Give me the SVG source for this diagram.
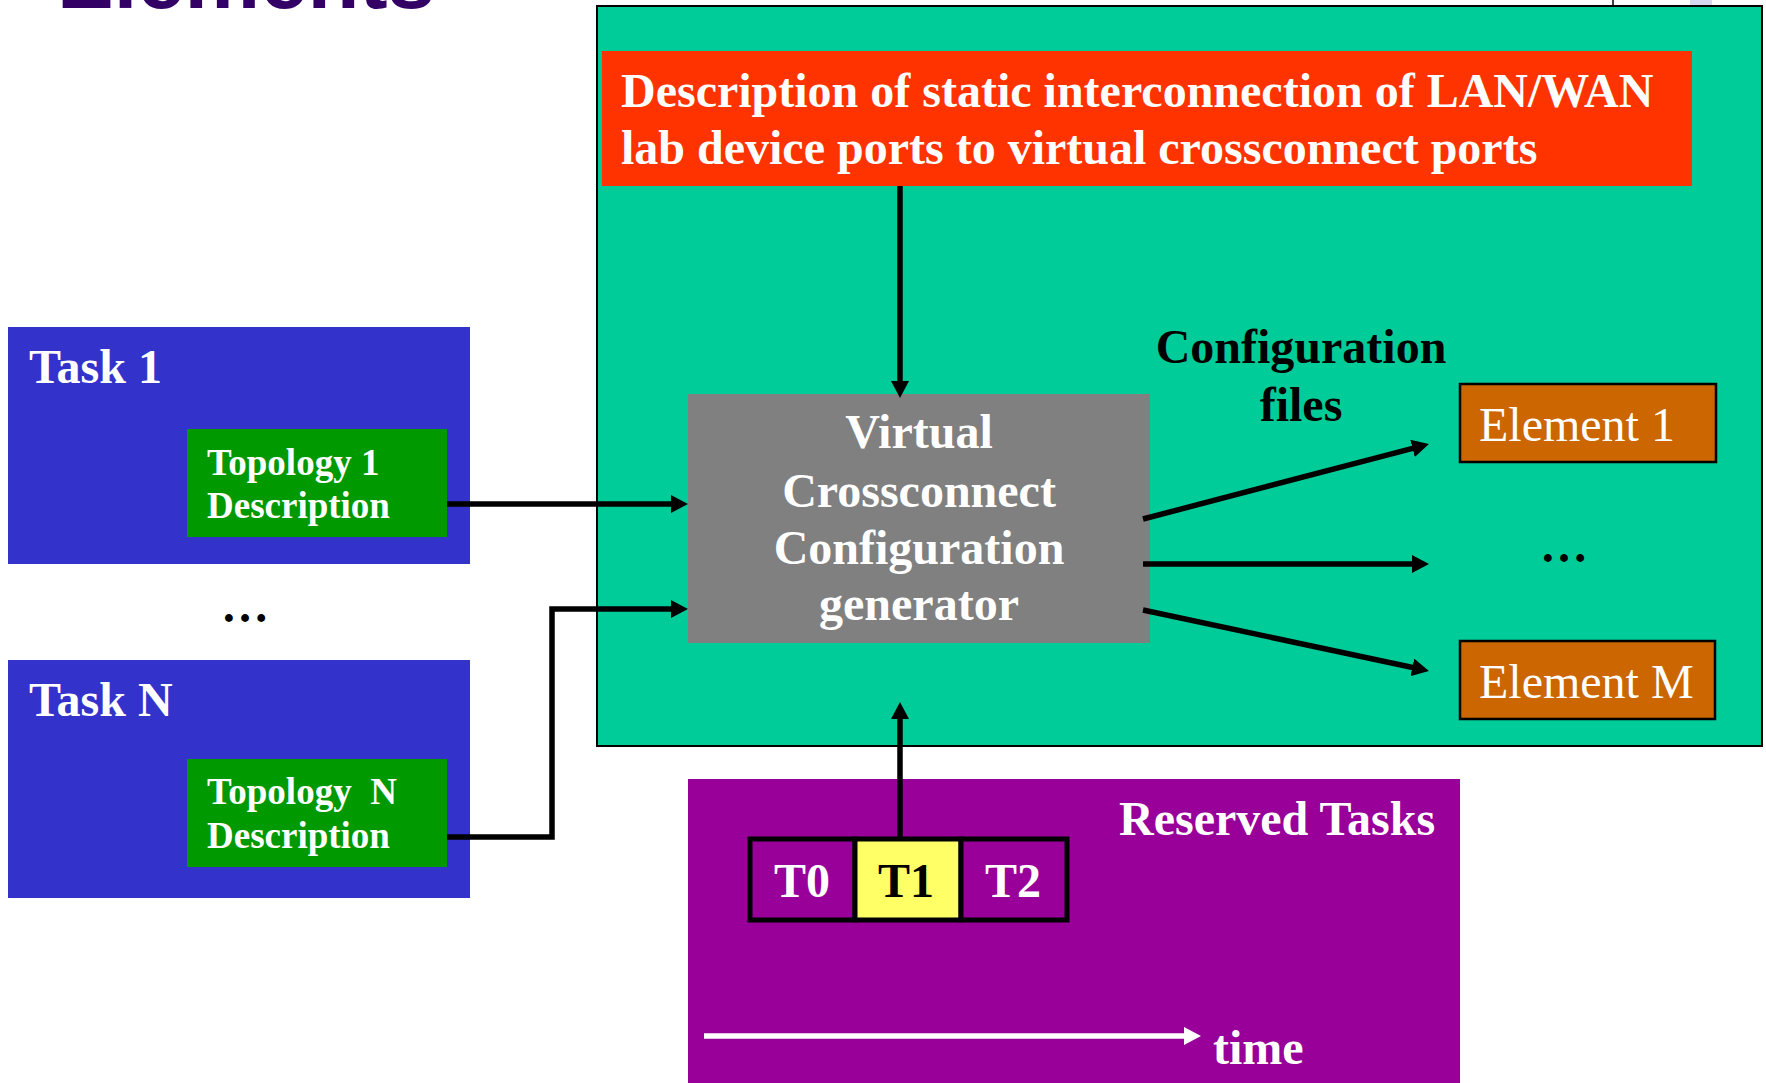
<svg xmlns="http://www.w3.org/2000/svg" width="1766" height="1083" viewBox="0 0 1766 1083">
  <style>
    .serif { font-family: "Liberation Serif", "Times New Roman", serif; font-weight: bold; }
    .w { fill: #ffffff; }
    .k { fill: #000000; }
    .big { font-size: 48px; }
    .mid { font-size: 37px; }
    .reg { font-weight: normal; }
    .wire { fill: none; stroke: #000; stroke-width: 5.5; }
    .wire-w { fill: none; stroke: #fff; stroke-width: 5.5; }
  </style>
  <defs>
    <marker id="arrow" viewBox="0 0 17 18" refX="10" refY="9" markerWidth="17" markerHeight="18" markerUnits="userSpaceOnUse" orient="auto">
      <path d="M0,0 L17,9 L0,18 z" fill="#000"/>
    </marker>
    <marker id="arrow-w" viewBox="0 0 17 18" refX="10" refY="9" markerWidth="17" markerHeight="18" markerUnits="userSpaceOnUse" orient="auto">
      <path d="M0,0 L17,9 L0,18 z" fill="#fff"/>
    </marker>
  </defs>

  <rect width="1766" height="1083" fill="#ffffff"/>

  <!-- slide heading, mostly above the page edge -->
  <text x="57" y="8" font-family="Liberation Sans, Arial, sans-serif" font-weight="bold" font-size="85" fill="#330066">Elements</text>
  <line x1="1613" y1="0" x2="1613" y2="6" stroke="#000" stroke-width="1.5"/>
  <rect x="1690" y="0" width="22" height="5" fill="#D6D6EE"/>

  <!-- crossconnect area -->
  <g id="crossconnect-area">
    <rect x="597" y="6" width="1165" height="740" fill="#00CC99" stroke="#000" stroke-width="2"/>
  </g>

  <g id="static-description">
    <rect x="602" y="51" width="1090" height="135" fill="#FF3300"/>
    <text class="serif w big" x="621" y="107">Description of static interconnection of LAN/WAN</text>
    <text class="serif w big" x="621" y="164">lab device ports to virtual crossconnect ports</text>
  </g>

  <g id="generator">
    <rect x="688" y="394" width="462" height="249" fill="#808080"/>
    <text class="serif w big" text-anchor="middle" x="919" y="448">Virtual</text>
    <text class="serif w big" text-anchor="middle" x="919" y="507">Crossconnect</text>
    <text class="serif w big" text-anchor="middle" x="919" y="564">Configuration</text>
    <text class="serif w big" text-anchor="middle" x="919" y="620">generator</text>
  </g>

  <g id="config-files-label">
    <text class="serif k big" text-anchor="middle" x="1301" y="363">Configuration</text>
    <text class="serif k big" text-anchor="middle" x="1301" y="421">files</text>
  </g>

  <g id="element-1">
    <rect x="1460" y="384" width="256" height="78" fill="#CC6600" stroke="#000" stroke-width="2.5"/>
    <text class="serif w big reg" x="1479" y="441">Element 1</text>
  </g>

  <g id="element-ellipsis">
    <text class="serif k big" x="1540" y="562">…</text>
  </g>

  <g id="element-m">
    <rect x="1460" y="641" width="255" height="78" fill="#CC6600" stroke="#000" stroke-width="2.5"/>
    <text class="serif w big reg" x="1479" y="698">Element M</text>
  </g>

  <!-- tasks -->
  <g id="task-1">
    <rect x="8" y="327" width="462" height="237" fill="#3333CC"/>
    <text class="serif w big" x="29" y="383">Task 1</text>
  </g>
  <g id="topology-1">
    <rect x="187" y="429" width="260" height="108" fill="#009900"/>
    <text class="serif w mid" x="207" y="475">Topology 1</text>
    <text class="serif w mid" x="207" y="518">Description</text>
  </g>

  <g id="task-ellipsis">
    <text class="serif k big" x="221" y="622">…</text>
  </g>

  <g id="task-n">
    <rect x="8" y="660" width="462" height="238" fill="#3333CC"/>
    <text class="serif w big" x="29" y="716">Task N</text>
  </g>
  <g id="topology-n">
    <rect x="187" y="759" width="260" height="108" fill="#009900"/>
    <text class="serif w mid" x="207" y="804" xml:space="preserve">Topology  N</text>
    <text class="serif w mid" x="207" y="848">Description</text>
  </g>

  <!-- reserved tasks -->
  <g id="reserved-tasks">
    <rect x="688" y="779" width="772" height="304" fill="#990099"/>
    <text class="serif w big" x="1119" y="835">Reserved Tasks</text>
    <text class="serif w big" x="1213" y="1064">time</text>
  </g>
  <g id="slot-t0">
    <rect x="750" y="839" width="105" height="81" fill="#990099" stroke="#000" stroke-width="5"/>
    <text class="serif w big" text-anchor="middle" x="802" y="897">T0</text>
  </g>
  <g id="slot-t1">
    <rect x="855" y="839" width="106" height="81" fill="#FFFF66" stroke="#000" stroke-width="5"/>
    <text class="serif k big" text-anchor="middle" x="906" y="897">T1</text>
  </g>
  <g id="slot-t2">
    <rect x="961" y="839" width="106" height="81" fill="#990099" stroke="#000" stroke-width="5"/>
    <text class="serif w big" text-anchor="middle" x="1013" y="897">T2</text>
  </g>

  <!-- connectors -->
  <g id="connectors">
    <line class="wire" x1="900" y1="186" x2="900" y2="391" marker-end="url(#arrow)"/>
    <line class="wire" x1="447" y1="504" x2="681" y2="504" marker-end="url(#arrow)"/>
    <polyline class="wire" points="447,837 552,837 552,609 681,609" marker-end="url(#arrow)"/>
    <line class="wire" x1="900" y1="837" x2="900" y2="709" marker-end="url(#arrow)"/>
    <line class="wire" x1="1143" y1="519" x2="1422.2" y2="445.8" marker-end="url(#arrow)"/>
    <line class="wire" x1="1143" y1="564" x2="1422" y2="564" marker-end="url(#arrow)"/>
    <line class="wire" x1="1143" y1="610" x2="1422.1" y2="669.5" marker-end="url(#arrow)"/>
    <line class="wire-w" x1="704" y1="1036" x2="1194" y2="1036" marker-end="url(#arrow-w)"/>
  </g>
</svg>
